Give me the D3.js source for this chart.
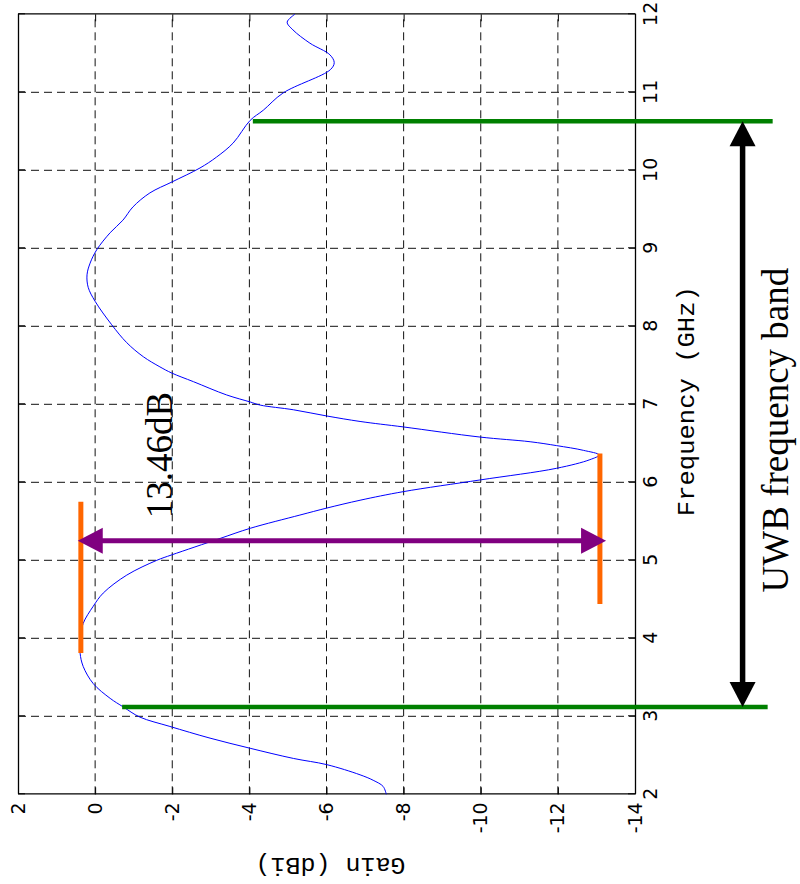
<!DOCTYPE html>
<html>
<head>
<meta charset="utf-8">
<script src="https://cdn.jsdelivr.net/npm/d3@7"></script>
<style>
  body { margin: 0; background: #fff; }
  svg { display: block; }
  .tick text { font-family: "DejaVu Sans", sans-serif; font-size: 19px; fill: #000; }
  .axis path, .axis line { stroke: #000; }
</style>
</head>
<body>
<div id="chart"></div>
<script>
// measured gain curve (frequency in GHz, gain in dBi)
const freq = [2.00, 2.10, 2.18, 2.25, 2.38, 2.46, 2.59, 2.72, 2.87, 2.99, 3.12, 3.23, 3.42, 3.64, 3.81, 3.98,
  4.19, 4.41, 4.58, 4.81, 5.00, 5.07, 5.28, 5.41, 5.58, 5.67, 5.77, 5.88, 6.03, 6.18, 6.29, 6.35,
  6.41, 6.47, 6.52, 6.58, 6.71, 6.78, 6.85, 6.93, 6.99, 7.03, 7.12, 7.29, 7.40, 7.48, 7.61, 7.79,
  8.02, 8.32, 8.50, 8.66, 8.81, 8.98, 9.20, 9.36, 9.53, 9.71, 9.85, 10.03, 10.17, 10.35, 10.64, 10.77,
  10.99, 11.29, 11.38, 11.48, 11.63, 11.80, 11.90, 12.00];
const gain = [-7.55, -7.47, -7.21, -6.87, -6.01, -5.14, -4.02, -2.98, -1.94, -1.16, -0.73, -0.39, 0.05, 0.31, 0.39, 0.39,
  0.31, 0.05, -0.21, -0.82, -1.60, -1.99, -3.24, -4.02, -5.31, -6.01, -6.87, -7.99, -9.98, -11.97, -12.83, -13.07,
  -12.66, -11.97, -11.28, -9.98, -7.99, -6.87, -6.01, -5.14, -4.28, -4.02, -3.41, -2.55, -1.99, -1.68, -1.25, -0.82,
  -0.43, 0.00, 0.18, 0.21, 0.13, -0.04, -0.39, -0.72, -0.98, -1.42, -1.99, -2.72, -3.15, -3.58, -4.02, -4.36,
  -4.87, -6.10, -6.20, -6.09, -5.57, -5.13, -4.98, -5.18];

const freqTicks = [2, 3, 4, 5, 6, 7, 8, 9, 10, 11, 12];
const gainTicks = [2, 0, -2, -4, -6, -8, -10, -12, -14];

// UWB band edges (GHz) and where their markers start / end on the gain axis
const bandEdges = [3.12, 10.63];
const bandEdgeFrom = [-0.70, -4.09];
const bandEdgeTo = [-17.44, -17.57];
const bandArrowGain = -16.79;

// level markers (max and min gain) and the difference arrow
const levelGain = [0.37, -13.09];
const levelFrom = [3.81, 4.44];
const levelTo = [5.75, 6.37];
const diffArrowFreq = 5.25;
const diffArrowGain = [0.45, -13.25];
const diffLabel = '13.46dB';
const diffLabelPos = [6.35, -1.99];
const bandLabel = 'UWB frequency band';
const bandLabelPos = [6.67, -17.97];

const W = 780, H = 617;

const svg = d3.select('#chart').append('svg')
  .attr('width', 800)
  .attr('height', 884);

// the whole plot is drawn turned a quarter turn counter-clockwise
const g = svg.append('g')
  .attr('transform', 'translate(18,794.3) rotate(-90)');

const x = d3.scaleLinear().domain([2, 12]).range([0, W]);
const y = d3.scaleLinear().domain([-14, 2]).range([H, 0]);

// grid
g.append('g').selectAll('line').data(freqTicks.slice(1, -1)).enter().append('line')
  .attr('x1', d => x(d)).attr('x2', d => x(d))
  .attr('y1', 0).attr('y2', H)
  .attr('stroke', '#111').attr('stroke-dasharray', '8,5');
g.append('g').selectAll('line').data(gainTicks.slice(1, -1)).enter().append('line')
  .attr('y1', d => y(d)).attr('y2', d => y(d))
  .attr('x1', 0).attr('x2', W)
  .attr('stroke', '#111').attr('stroke-dasharray', '8,5');

// axes (ticks pointing inward)
g.append('g').attr('class', 'axis')
  .attr('transform', 'translate(0,' + H + ')')
  .call(d3.axisBottom(x).tickValues(freqTicks).tickSizeInner(-7).tickSizeOuter(0).tickPadding(9));
g.append('g').attr('class', 'axis')
  .call(d3.axisLeft(y).tickValues(gainTicks).tickSizeInner(-7).tickSizeOuter(0).tickPadding(8)
    .tickFormat(d => String(d)));
g.append('g').attr('class', 'axis')
  .call(d3.axisTop(x).tickValues(freqTicks).tickSizeInner(-7).tickSizeOuter(0).tickFormat(''));
g.append('g').attr('class', 'axis')
  .attr('transform', 'translate(' + W + ',0)')
  .call(d3.axisRight(y).tickValues(gainTicks).tickSizeInner(-7).tickSizeOuter(0).tickFormat(''));
g.selectAll('.axis path').attr('stroke-width', 1.3);

// axis titles
g.append('text')
  .attr('x', x(7.04)).attr('y', H + 59)
  .attr('text-anchor', 'middle')
  .attr('textLength', 230).attr('lengthAdjust', 'spacingAndGlyphs')
  .style('font-family', '"Liberation Mono", "DejaVu Sans Mono", monospace').style('font-size', '24px')
  .text('Frequency (GHz)');
g.append('text')
  .attr('transform', 'translate(-63.7,' + (H / 2 + 4) + ') rotate(-90)')
  .attr('text-anchor', 'middle')
  .attr('textLength', 150).attr('lengthAdjust', 'spacingAndGlyphs')
  .style('font-family', '"Liberation Mono", "DejaVu Sans Mono", monospace').style('font-size', '24px')
  .text('Gain (dBi)');

// gain curve
const line = d3.line()
  .curve(d3.curveCatmullRom.alpha(0.5))
  .x((d, i) => x(freq[i]))
  .y(d => y(d));
g.append('path')
  .datum(gain)
  .attr('d', line)
  .attr('fill', 'none')
  .attr('stroke', '#0000ff')
  .attr('stroke-width', 1);

// band edge markers
g.append('g').selectAll('line').data(bandEdges).enter().append('line')
  .attr('x1', d => x(d)).attr('x2', d => x(d))
  .attr('y1', (d, i) => y(bandEdgeFrom[i])).attr('y2', (d, i) => y(bandEdgeTo[i]))
  .attr('stroke', '#008000').attr('stroke-width', 4.5);

// level markers
g.append('g').selectAll('line').data(levelGain).enter().append('line')
  .attr('y1', d => y(d)).attr('y2', d => y(d))
  .attr('x1', (d, i) => x(levelFrom[i])).attr('x2', (d, i) => x(levelTo[i]))
  .attr('stroke', '#ff6600').attr('stroke-width', 5);

// double arrows
const headLen = 25, headW = 13;
function doubleArrow(x1, y1, x2, y2, color, width) {
  const dx = x2 - x1, dy = y2 - y1, len = Math.hypot(dx, dy);
  const ux = dx / len, uy = dy / len, px = -uy, py = ux;
  g.append('line')
    .attr('x1', x1 + ux * headLen * 0.8).attr('y1', y1 + uy * headLen * 0.8)
    .attr('x2', x2 - ux * headLen * 0.8).attr('y2', y2 - uy * headLen * 0.8)
    .attr('stroke', color).attr('stroke-width', width);
  [[x1, y1, 1], [x2, y2, -1]].forEach(([tx, ty, s]) => {
    const bx = tx + s * ux * headLen, by = ty + s * uy * headLen;
    g.append('path')
      .attr('d', 'M' + tx + ',' + ty + 'L' + (bx + px * headW) + ',' + (by + py * headW) +
        'L' + (bx - px * headW) + ',' + (by - py * headW) + 'Z')
      .attr('fill', color);
  });
}
doubleArrow(x(bandEdges[0]), y(bandArrowGain), x(bandEdges[1]), y(bandArrowGain), '#000', 5.5);
doubleArrow(x(diffArrowFreq), y(diffArrowGain[0]), x(diffArrowFreq), y(diffArrowGain[1]), '#800080', 5);

// annotation texts
g.append('text')
  .attr('x', x(diffLabelPos[0])).attr('y', y(diffLabelPos[1]))
  .attr('text-anchor', 'middle')
  .style('font-family', '"Liberation Serif", serif').style('font-size', '37px')
  .text(diffLabel);
g.append('text')
  .attr('x', x(bandLabelPos[0])).attr('y', y(bandLabelPos[1]))
  .attr('text-anchor', 'middle')
  .style('font-family', '"Liberation Serif", serif').style('font-size', '37px')
  .text(bandLabel);
</script>
</body>
</html>
